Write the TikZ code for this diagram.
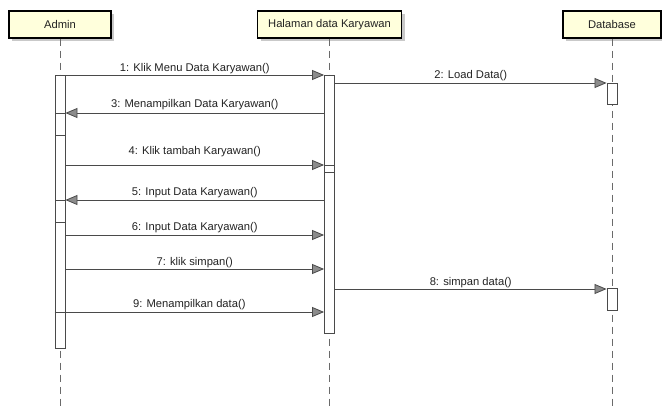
\documentclass[tikz,border=0pt]{standalone}
\usepackage{fontspec}
\setmainfont{Liberation Sans}
\usetikzlibrary{arrows.meta,shadows}
\definecolor{boxfill}{HTML}{FFFFDC}
\definecolor{linec}{HTML}{4A4A4A}
\definecolor{tipfill}{HTML}{8C8C8C}
\definecolor{lifec}{HTML}{6A6A6A}
\definecolor{txtc}{HTML}{222222}
\begin{document}
\begin{tikzpicture}[x=1pt,y=-1pt,
  font=\fontsize{11.2}{13}\selectfont,
  head/.style={draw=black, line width=1.2pt, fill=boxfill, minimum height=27pt, inner sep=0pt,
    text=txtc, drop shadow={shadow xshift=3pt, shadow yshift=-3pt, fill=black!30, opacity=0.7}},
  life/.style={draw=lifec, line width=0.9pt, dash pattern=on 7pt off 5pt},
  actbar/.style={draw=linec, line width=0.9pt, fill=white, minimum width=10pt, inner sep=0pt},
  msg/.style={draw=linec, line width=0.8pt, -{Triangle[length=12pt,width=10pt,fill=tipfill]}},
  lbl/.style={midway, anchor=base, inner sep=0pt, text=txtc}
]
\useasboundingbox (0,0) rectangle (662,406);

% heads
\node[head, minimum width=102pt] (admin) at (60,24.5) {Admin};
\node[head, minimum width=144pt] (hal) at (329.5,24.5) {Halaman data Karyawan};
\node[head, minimum width=98pt] (db) at (612,24.5) {Database};

% lifelines
\coordinate (aend) at (60,406);
\coordinate (hend) at (329.5,406);
\coordinate (dend) at (612,406);
\draw[life] (admin.south) -- (aend);
\draw[life] (hal.south) -- (hend);
\draw[life] (db.south) -- (dend);

% activation bars
\node[actbar, minimum height=273pt] (abar) at (60,211.5) {};
\node[actbar, minimum height=22pt] (an1) at (60,124) {};
\node[actbar, minimum height=22pt] (an2) at (60,211) {};
\node[actbar, minimum height=258pt] (hbar) at (329.5,204) {};
\node[actbar, minimum height=7pt] (hn1) at (329.5,168.5) {};
\node[actbar, minimum height=21pt] (dbar1) at (612,93.5) {};
\node[actbar, minimum height=22pt] (dbar2) at (612,299) {};

% messages
\draw[msg] (abar.east |- 0,75) -- (hbar.west |- 0,75)
  node[lbl, yshift=3pt] {1: Klik Menu Data Karyawan()};
\draw[msg] (hbar.east |- 0,83) -- (dbar1.west |- 0,83)
  node[lbl, yshift=4pt] {2: Load Data()};
\draw[msg] (hbar.west |- 0,113) -- (an1.east |- 0,113)
  node[lbl, yshift=5pt] {3: Menampilkan Data Karyawan()};
\draw[msg] (abar.east |- 0,165) -- (hn1.west |- 0,165)
  node[lbl, yshift=10pt] {4: Klik tambah Karyawan()};
\draw[msg] (hbar.west |- 0,200) -- (an2.east |- 0,200)
  node[lbl, yshift=4pt] {5: Input Data Karyawan()};
\draw[msg] (abar.east |- 0,235) -- (hbar.west |- 0,235)
  node[lbl, yshift=4pt] {6: Input Data Karyawan()};
\draw[msg] (abar.east |- 0,269) -- (hbar.west |- 0,269)
  node[lbl, yshift=3pt] {7: klik simpan()};
\draw[msg] (hbar.east |- 0,289) -- (dbar2.west |- 0,289)
  node[lbl, yshift=3pt] {8: simpan data()};
\draw[msg] (abar.west |- 0,312) -- (hbar.west |- 0,312)
  node[lbl, yshift=4pt] {9: Menampilkan data()};
\end{tikzpicture}
\end{document}
